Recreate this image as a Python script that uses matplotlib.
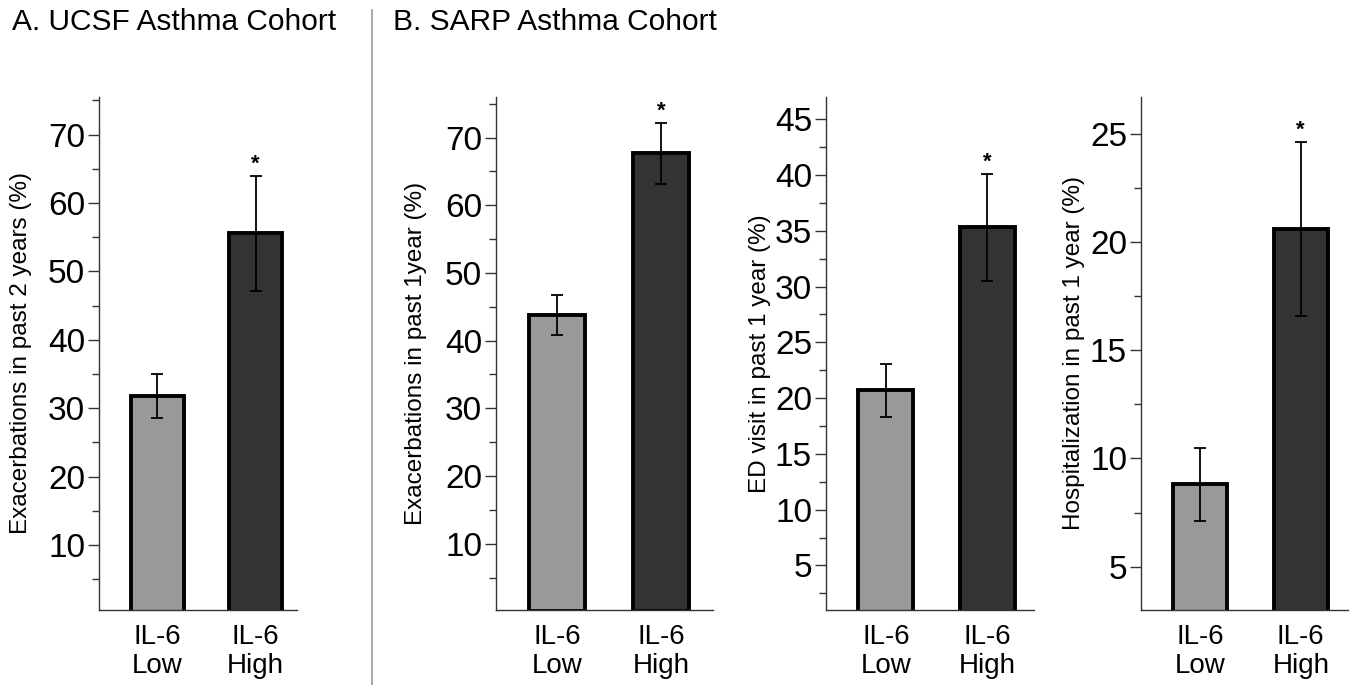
import matplotlib
matplotlib.use("Agg")
import matplotlib.pyplot as plt
from matplotlib.ticker import MultipleLocator

plt.rcParams["font.family"] = ["Liberation Sans", "DejaVu Sans"]

# ── data ──────────────────────────────────────────────────────────────────────
groups = ["IL-6\nLow", "IL-6\nHigh"]

ucsf_exac2y     = [31.8, 55.6]
ucsf_exac2y_err = [3.2, 8.4]

sarp_exac1y     = [43.8, 67.7]
sarp_exac1y_err = [3.0, 4.5]

sarp_ed         = [20.7, 35.3]
sarp_ed_err     = [2.4, 4.8]

sarp_hosp       = [8.8, 20.6]
sarp_hosp_err   = [1.7, 4.0]

ylabels = [
    "Exacerbations in past 2 years (%)",
    "Exacerbations in past 1year (%)",
    "ED visit in past 1 year (%)",
    "Hospitalization in past 1 year (%)",
]

# ── layout ────────────────────────────────────────────────────────────────────
W, H = 1355, 685
fig = plt.figure(figsize=(W / 100, H / 100), dpi=100, facecolor="white")


def px_axes(left, right, bottom=610, top=97):
    return fig.add_axes([left / W, 1 - bottom / H, (right - left) / W, (bottom - top) / H])


panels = [
    # values, errors, axes, ylim, major, minor, xlim, label x
    (ucsf_exac2y, ucsf_exac2y_err, px_axes(99, 297),   (0.5, 75.5), 10, 5,   (-0.59, 1.42), -0.338),
    (sarp_exac1y, sarp_exac1y_err, px_axes(496, 713),  (0.2, 76.0), 10, 5,   (-0.59, 1.50), -0.318),
    (sarp_ed,     sarp_ed_err,     px_axes(826, 1034), (1.0, 47.0), 5,  2.5, (-0.59, 1.46), -0.264),
    (sarp_hosp,   sarp_hosp_err,   px_axes(1141, 1348),(3.0, 26.7), 5,  2.5, (-0.59, 1.47), -0.272),
]

colors = ["#999999", "#333333"]

for i, (vals, errs, ax, ylim, major, minor, xlim, lab_x) in enumerate(panels):
    x = range(len(groups))
    ax.bar(x, vals, width=0.54, color=colors, edgecolor="black", linewidth=2.8, zorder=2)
    ax.errorbar(x, vals, yerr=errs, fmt="none", ecolor="black",
                elinewidth=1.3, capsize=4.5, capthick=1.3, zorder=3)
    top = vals[1] + errs[1]
    ax.annotate("*", xy=(1, top), xytext=(0, 1), textcoords="offset points",
                ha="center", va="bottom", fontsize=16, fontweight="bold")

    ax.set_xlim(*xlim)
    ax.set_ylim(*ylim)
    ax.yaxis.set_major_locator(MultipleLocator(major))
    ax.yaxis.set_minor_locator(MultipleLocator(minor))
    ax.set_xticks(list(x))
    ax.set_xticklabels(groups, fontsize=20, linespacing=1.15)
    ax.tick_params(axis="x", length=0, pad=10)
    ax.tick_params(axis="y", which="major", length=8, width=1, labelsize=24, pad=2, color="#333333")
    ax.tick_params(axis="y", which="minor", length=5, width=1, color="#333333")

    for s in ["top", "right"]:
        ax.spines[s].set_visible(False)
    for s in ["left", "bottom"]:
        ax.spines[s].set_linewidth(1)
        ax.spines[s].set_color("#333333")

    ax.set_ylabel(ylabels[i], fontsize=17.5)
    ax.yaxis.set_label_coords(lab_x, 0.5)

# ── panel titles and divider ──────────────────────────────────────────────────
fig.text(12 / W, 1 - 22 / H, "A. UCSF Asthma Cohort", fontsize=21.5, ha="left", va="center")
fig.text(393 / W, 1 - 22 / H, "B. SARP Asthma Cohort", fontsize=21.5, ha="left", va="center")
fig.add_artist(plt.Line2D([372 / W, 372 / W], [0, 1 - 10 / H], color="#999999", lw=1.2))

fig.savefig("out.png", dpi=100)
